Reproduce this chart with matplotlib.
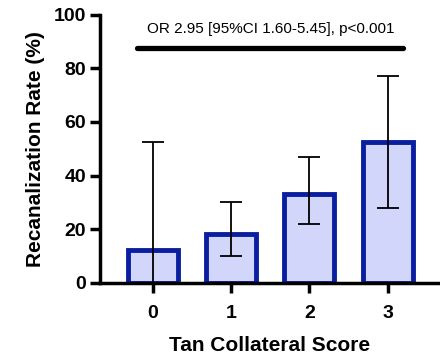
import matplotlib.pyplot as plt
import numpy as np

plt.rcParams['font.family'] = ['Liberation Sans', 'DejaVu Sans']

# Data
scores = ['0', '1', '2', '3']
rates = [12.3, 18.2, 33.0, 52.5]
ci_low = [0.0, 10.0, 22.0, 28.0]
ci_high = [52.5, 30.0, 47.0, 77.0]
annotation = 'OR 2.95 [95%CI 1.60-5.45], p<0.001'

x = np.arange(len(scores))
rates = np.array(rates)
yerr = [rates - np.array(ci_low), np.array(ci_high) - rates]

fig = plt.figure(figsize=(4.4, 3.59), dpi=100)
ax = fig.add_axes([0.227, 0.212, 0.773, 0.747])

ax.bar(x, rates, width=0.64, color='#d3d6fb', edgecolor='#0a1fa0', linewidth=3.5, zorder=2)
ax.errorbar(x, rates, yerr=yerr, fmt='none', ecolor='black', elinewidth=1.3,
            capsize=8, capthick=1.3, zorder=3)

# significance bar
ax.plot([-0.2, 3.2], [87.5, 87.5], color='black', lw=3.8, solid_capstyle='round', clip_on=False)
ax.text(1.5, 94.5, annotation, ha='center', va='center', fontsize=11)

ax.set_xlim(-0.68, 3.67)
ax.set_ylim(0, 100)
ax.set_xticks(x)
ax.set_xticklabels(scores)
ax.set_yticks([0, 20, 40, 60, 80, 100])

for side in ['top', 'right']:
    ax.spines[side].set_visible(False)
for side in ['left', 'bottom']:
    ax.spines[side].set_linewidth(2.5)

ax.tick_params(axis='both', width=2.5, length=7, labelsize=14)
ax.tick_params(axis='x', pad=9)
ax.tick_params(axis='y', pad=3)
for lbl in ax.get_xticklabels() + ax.get_yticklabels():
    lbl.set_fontweight('bold')

ax.set_xlabel('Tan Collateral Score', fontsize=15, fontweight='bold', labelpad=10)
ax.set_ylabel('Recanalization Rate (%)', fontsize=15, fontweight='bold', labelpad=6)

fig.savefig('out.png', dpi=100)
